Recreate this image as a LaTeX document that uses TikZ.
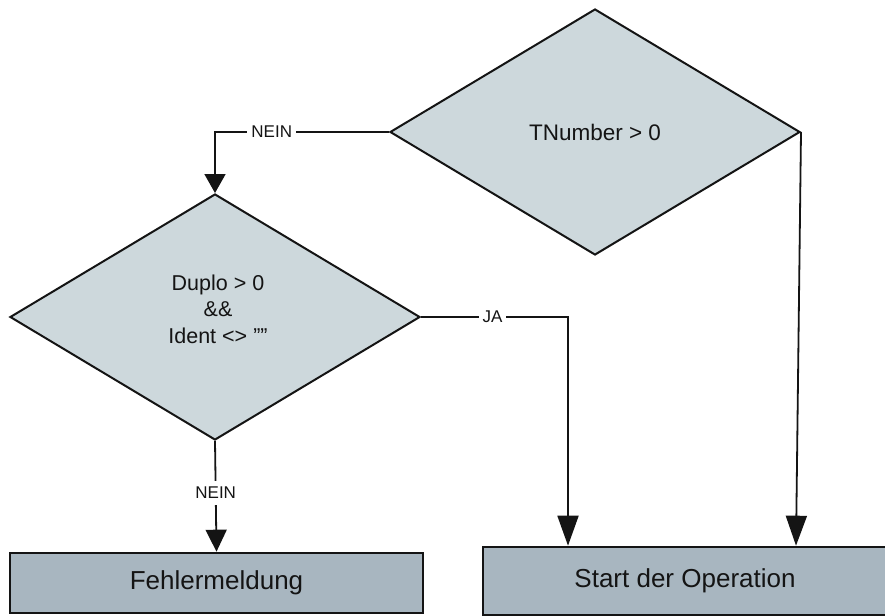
\documentclass[tikz,border=0pt]{standalone}
\usepackage{fontspec}
\setmainfont{Liberation Sans}
\usetikzlibrary{shapes.geometric,arrows.meta,calc}

\definecolor{decfill}{HTML}{CDD8DC}
\definecolor{boxfill}{HTML}{A8B6C0}
\definecolor{ink}{HTML}{141414}

\tikzset{
  decision/.style={diamond, draw=ink, fill=decfill, line width=2pt, inner sep=0pt,
    minimum width=410pt, minimum height=246pt, font=\fontsize{21.5}{26.5}\selectfont,
    text=ink, align=center},
  action/.style={rectangle, draw=ink, fill=boxfill, line width=2.6pt, inner sep=0pt,
    font=\fontsize{26}{30}\selectfont, text=ink},
  conn/.style={draw=ink, line width=1.8pt, -{Triangle[length=19pt,width=21pt]}},
  longtip/.style={-{Triangle[length=30pt,width=21pt]}},
  midtip/.style={-{Triangle[length=22pt,width=21pt]}},
  lbl/.style={fill=white, inner sep=4pt, font=\fontsize{17}{20}\selectfont, text=ink}
}

\begin{document}
\begin{tikzpicture}[x=1pt, y=-1pt]
  \useasboundingbox[fill=white] (0,0) rectangle (885,615);

  % decisions
  \node[decision, font=\fontsize{22.5}{27}\selectfont] (q1) at (595,132) {TNumber > 0};
  \node[decision] (q2) at (215,317) {};
  \node[font=\fontsize{21.5}{26.5}\selectfont, text=ink, align=center] (q2text) at (218,309)
    {Duplo > 0\\\&\&\\Ident <> ""};

  % actions
  \node[action, minimum width=413pt, minimum height=60pt] (err) at (216.5,583) {Fehlermeldung};
  \node[action, minimum width=404pt, minimum height=68pt] (start) at (685,581) {Start der Operation};

  % connectors
  \draw[conn] (q1.west) -| node[lbl, pos=0.337] {NEIN} (q2.north);
  \draw[conn, longtip] (q2.east) -| node[lbl, pos=0.243] {JA} ([xshift=-117pt]start.north);
  \draw[conn, midtip] (q2.south) -- node[lbl, pos=0.47, inner ysep=6pt] {NEIN} (err.north);
  \draw[conn, longtip] (q1.east) -- ([xshift=111pt]start.north);
\end{tikzpicture}
\end{document}
